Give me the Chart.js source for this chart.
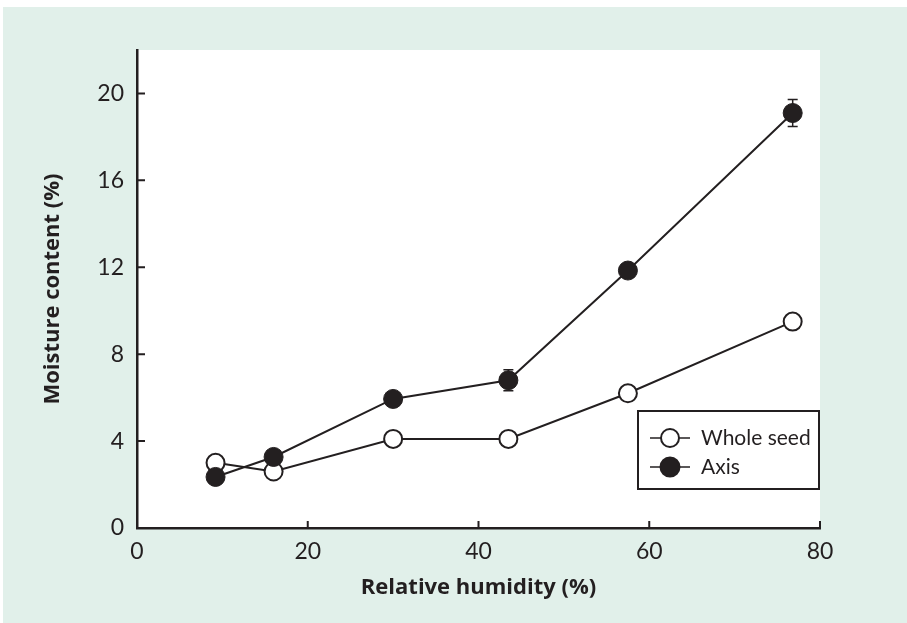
<!DOCTYPE html>
<html>
<head>
<meta charset="utf-8">
<script src="https://cdn.jsdelivr.net/npm/chart.js@4.4.1/dist/chart.umd.min.js"></script>
<style>
  html, body { margin: 0; padding: 0; background: #fff; }
  #wrap { position: relative; width: 907px; height: 623px; }
</style>
</head>
<body>
<div id="wrap"><canvas id="chart" width="907" height="623"></canvas></div>
<script>
const humidity   = [9.2, 16.0, 30.0, 43.5, 57.5, 76.8];
const wholeSeed  = [3.0, 2.6, 4.1, 4.1, 6.2, 9.5];
const wholeErr   = [0, 0, 0, 0.15, 0, 0];
const axisSeed   = [2.35, 3.27, 5.94, 6.8, 11.85, 19.1];
const axisErr    = [0, 0, 0, 0.48, 0, 0.62];
const xTicks     = [0, 20, 40, 60, 80];
const yTicks     = [0, 4, 8, 12, 16, 20];

const INK  = '#231f20';
const MINT = '#e1f0ea';
const FONT = 'Lato, "Open Sans", sans-serif';
const TITLE_FONT = '"Open Sans", Lato, sans-serif';

const toPts = (ys) => humidity.map((x, i) => ({ x: x, y: ys[i] }));

// mint panel + white plot area
const panelBg = {
  id: 'panelBg',
  beforeDraw(chart) {
    const { ctx, chartArea: a } = chart;
    ctx.save();
    ctx.fillStyle = MINT;
    ctx.fillRect(3, 7, chart.width - 3, chart.height - 7);
    ctx.fillStyle = '#fff';
    ctx.fillRect(a.left, a.top, a.right - a.left, a.bottom - a.top);
    ctx.restore();
  }
};

// inward tick marks
const innerTicks = {
  id: 'innerTicks',
  afterDraw(chart) {
    const { ctx, scales: { x, y } } = chart;
    ctx.save();
    ctx.strokeStyle = INK;
    ctx.lineWidth = 2;
    ctx.beginPath();
    x.ticks.forEach(t => {
      if (t.value === 0) return;
      const px = x.getPixelForValue(t.value);
      ctx.moveTo(px, y.bottom);
      ctx.lineTo(px, y.bottom - 7);
    });
    y.ticks.forEach(t => {
      if (t.value === 0) return;
      const py = y.getPixelForValue(t.value);
      ctx.moveTo(x.left, py);
      ctx.lineTo(x.left + 8, py);
    });
    ctx.stroke();
    ctx.restore();
  }
};

// error bars, drawn before the markers
const errorBars = {
  id: 'errorBars',
  beforeDatasetsDraw(chart) {
    const { ctx, scales: { x, y } } = chart;
    ctx.save();
    ctx.strokeStyle = INK;
    ctx.lineWidth = 1.5;
    chart.data.datasets.forEach(ds => {
      (ds.errors || []).forEach((e, i) => {
        if (!e) return;
        const px = x.getPixelForValue(humidity[i]);
        const top = y.getPixelForValue(ds.data[i].y + e);
        const bot = y.getPixelForValue(ds.data[i].y - e);
        ctx.beginPath();
        ctx.moveTo(px, top); ctx.lineTo(px, bot);
        ctx.moveTo(px - 5, top); ctx.lineTo(px + 5, top);
        ctx.moveTo(px - 5, bot); ctx.lineTo(px + 5, bot);
        ctx.stroke();
      });
    });
    ctx.restore();
  }
};

// boxed legend inside the plot
const boxLegend = {
  id: 'boxLegend',
  afterDraw(chart) {
    const { ctx } = chart;
    const bx = 638, by = 411, bw = 181, bh = 78;
    ctx.save();
    ctx.fillStyle = '#fff';
    ctx.fillRect(bx, by, bw, bh);
    ctx.strokeStyle = INK;
    ctx.lineWidth = 2;
    ctx.strokeRect(bx, by, bw, bh);
    const rows = [chart.data.datasets[1], chart.data.datasets[0]];
    rows.forEach((ds, i) => {
      const cy = by + 27 + i * 29;
      ctx.beginPath();
      ctx.lineWidth = 1.5;
      ctx.moveTo(bx + 12, cy); ctx.lineTo(bx + 52, cy);
      ctx.stroke();
      ctx.beginPath();
      ctx.arc(bx + 32, cy, ds.pointRadius, 0, Math.PI * 2);
      ctx.fillStyle = ds.pointBackgroundColor;
      ctx.fill();
      ctx.lineWidth = 2;
      ctx.stroke();
      ctx.fillStyle = INK;
      ctx.font = '21px ' + FONT;
      ctx.textBaseline = 'middle';
      ctx.fillText(ds.label, bx + 63, cy);
    });
    ctx.restore();
  }
};

new Chart(document.getElementById('chart'), {
  type: 'line',
  data: {
    datasets: [
      {
        label: 'Axis',
        data: toPts(axisSeed),
        errors: axisErr,
        borderColor: INK,
        borderWidth: 2,
        pointRadius: 9.5,
        pointBackgroundColor: INK,
        pointBorderColor: INK,
        pointBorderWidth: 1,
        tension: 0,
        order: 1
      },
      {
        label: 'Whole seed',
        data: toPts(wholeSeed),
        errors: wholeErr,
        borderColor: INK,
        borderWidth: 2,
        pointRadius: 9,
        pointBackgroundColor: '#fff',
        pointBorderColor: INK,
        pointBorderWidth: 2,
        tension: 0,
        order: 2
      }
    ]
  },
  options: {
    responsive: false,
    animation: false,
    layout: { padding: { top: 50, right: 87, left: 0, bottom: 0 } },
    plugins: { legend: { display: false }, tooltip: { enabled: false } },
    scales: {
      x: {
        type: 'linear',
        min: 0, max: 80,
        afterBuildTicks: s => { s.ticks = xTicks.map(v => ({ value: v })); },
        afterFit: s => { s.height = 95; },
        grid: { display: false, drawTicks: false },
        border: { display: true, color: INK, width: 2.5 },
        ticks: { color: INK, padding: 10, font: { family: FONT, size: 23 } },
        title: {
          display: true, text: 'Relative humidity (%)', color: INK,
          font: { family: TITLE_FONT, size: 22, weight: 'bold' },
          padding: { top: 0, bottom: 22 }
        }
      },
      y: {
        min: 0, max: 22,
        afterBuildTicks: s => { s.ticks = yTicks.map(v => ({ value: v })); },
        afterFit: s => { s.width = 137; },
        grid: { display: false, drawTicks: false },
        border: { display: true, color: INK, width: 2.5 },
        ticks: { color: INK, padding: 13, font: { family: FONT, size: 23 } },
        title: {
          display: true, text: 'Moisture content (%)', color: INK,
          font: { family: TITLE_FONT, size: 22, weight: 'bold' },
          padding: { top: 40, bottom: 0 }
        }
      }
    }
  },
  plugins: [panelBg, errorBars, innerTicks, boxLegend]
});
</script>
</body>
</html>
